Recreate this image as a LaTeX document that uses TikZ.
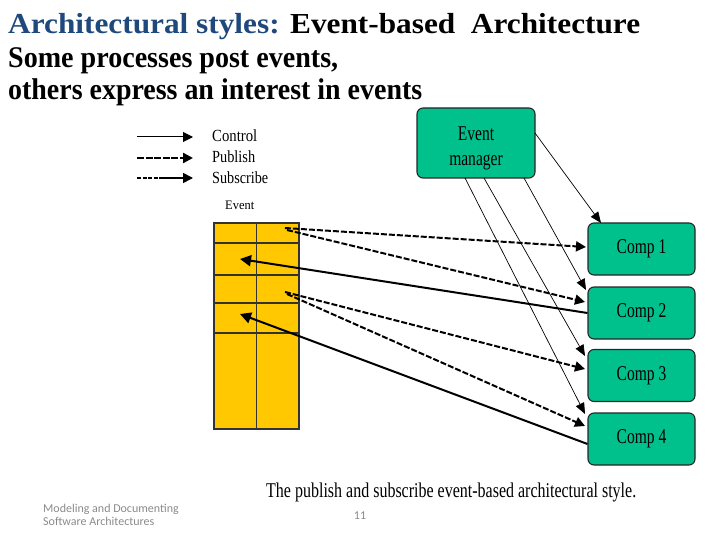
\documentclass[tikz,border=0pt]{standalone}
\usepackage{fontspec}
\setmainfont{Liberation Serif}
\newfontfamily\calib{Carlito}
\usetikzlibrary{arrows.meta}
\definecolor{titleblue}{HTML}{1F497D}
\definecolor{boxgreen}{HTML}{00C08C}
\definecolor{tabyellow}{HTML}{FFC800}
\definecolor{footgray}{HTML}{8A8A8A}
\newcommand{\cnd}[1]{\scalebox{0.74}[1]{#1}}
\begin{document}
\begin{tikzpicture}[x=1pt,y=-1pt,
  greenbox/.style={draw=black!85, line width=1.1pt, fill=boxgreen, rounded corners=6pt, inner sep=0pt, font=\fontsize{21}{25}\selectfont, align=center},
  compbox/.style={greenbox, minimum width=107pt, minimum height=52pt},
  tabbox/.style={draw=black!80, line width=1.1pt, fill=tabyellow, inner sep=0pt, minimum width=85pt, minimum height=206pt},
  ctrl/.style={line width=0.7pt, -{Triangle[length=11pt,width=9pt]}},
  pub/.style={line width=2pt, dash pattern=on 6pt off 2pt, -{Triangle[length=10pt,width=10pt]}},
  sub/.style={line width=2pt, -{Triangle[length=11pt,width=11pt]}},
  legctrl/.style={line width=1pt, -{Triangle[length=10pt,width=10pt]}},
  legpub/.style={line width=2.4pt, dash pattern=on 7pt off 1.5pt, -{Triangle[length=10pt,width=10pt]}},
  legsub/.style={line width=1.6pt, dash pattern=on 4pt off 1.5pt on 4pt off 1.5pt on 4pt off 1.5pt on 4pt off 1.5pt on 30pt off 0pt, -{Triangle[length=10pt,width=10pt]}},
  legtxt/.style={anchor=base west, inner sep=0pt, font=\fontsize{17}{17}\selectfont},
  foot/.style={inner sep=0pt, font=\calib\fontsize{12}{14}\selectfont, text=footgray}
]
\useasboundingbox (0,0) rectangle (720,540);

% Title and subtitle
\node[anchor=base west, inner sep=0pt, font=\fontsize{29}{29}\selectfont\bfseries] (title) at (8,34)
  {\resizebox{632pt}{\height}{\textcolor{titleblue}{Architectural styles:} Event-based\ \ Architecture}};
\node[anchor=base west, inner sep=0pt, font=\fontsize{30}{30}\selectfont\bfseries] (sub1) at (8,68)
  {\resizebox{330pt}{\height}{Some processes post events,}};
\node[anchor=base west, inner sep=0pt, font=\fontsize{30}{30}\selectfont\bfseries] (sub2) at (8,100)
  {\resizebox{414pt}{\height}{others express an interest in events}};

% Legend
\coordinate (l1a) at (137,137); \coordinate (l1b) at (193,137);
\coordinate (l2a) at (137,158); \coordinate (l2b) at (193,158);
\coordinate (l3a) at (137,178); \coordinate (l3b) at (193,178);
\draw[legctrl] (l1a) -- (l1b);
\draw[legpub] (l2a) -- (l2b);
\draw[legsub] (l3a) -- (l3b);
\node[legtxt] (lc) at (212,142) {\resizebox{45pt}{\height}{Control}};
\node[legtxt] (lp) at (212,163) {\resizebox{43pt}{\height}{Publish}};
\node[legtxt] (ls) at (212,184) {\resizebox{56pt}{\height}{Subscribe}};
\node[anchor=base west, inner sep=0pt, font=\fontsize{13}{13}\selectfont] (le) at (225,210) {\resizebox{29pt}{\height}{Event}};

% Event table
\node[tabbox] (evt) at (256.5,326) {};
\draw[black!80, line width=1.1pt] (evt.north) -- (evt.south);
\foreach \yy in {243,275,303,333}
  \draw[black!80, line width=1.1pt] (evt.west |- 0,\yy) -- (evt.east |- 0,\yy);

% Event manager and components
\node[greenbox, minimum width=118pt, minimum height=70pt,
      label={[font=\fontsize{21}{25}\selectfont, align=center, yshift=-5pt]center:{\cnd{Event}\\\cnd{manager}}}] (em) at (476,143) {};
\node[compbox] (c1) at (641.5,249) {\cnd{Comp 1}};
\node[compbox] (c2) at (641.5,313) {\cnd{Comp 2}};
\node[compbox] (c3) at (641.5,375.5) {\cnd{Comp 3}};
\node[compbox] (c4) at (641.5,439) {\cnd{Comp 4}};

% Control connectors
\coordinate (e1) at (535,133);
\coordinate (e2) at (524,178);
\coordinate (e3) at (484,178);
\coordinate (e4) at (465,178);
\coordinate (t1) at (601,223);
\coordinate (t2) at (586,290);
\coordinate (t3) at (585,356);
\coordinate (t4) at (585,414);
\draw[ctrl] (e1) -- (t1);
\draw[ctrl] (e2) -- (t2);
\draw[ctrl] (e3) -- (t3);
\draw[ctrl] (e4) -- (t4);

% Publish connectors
\coordinate (p1) at (285,228);
\coordinate (p1b) at (287,230);
\coordinate (p2) at (285,292);
\coordinate (p2b) at (287,294);
\coordinate (q1) at (586,247);
\coordinate (q2) at (585,302);
\coordinate (q3) at (585,369);
\coordinate (q4) at (585,426);
\draw[pub] (p1) -- (q1);
\draw[pub] (p1b) -- (q2);
\draw[pub] (p2) -- (q3);
\draw[pub] (p2b) -- (q4);

% Subscribe connectors
\coordinate (s1) at (240,259);
\coordinate (s2) at (240,314);
\draw[sub] (c2.west) -- (s1);
\draw[sub] (c4.west |- 0,444) -- (s2);

% Caption and footer
\node[anchor=base west, inner sep=0pt, font=\fontsize{21}{21}\selectfont] (cap) at (266,497)
  {\resizebox{370pt}{\height}{The publish and subscribe event-based architectural style.}};
\node[foot, anchor=base west] (f1) at (43,512) {Modeling and Documenting};
\node[foot, anchor=base west] (f2) at (43,525) {Software Architectures};
\node[foot, anchor=base] (pg) at (360,519) {11};
\end{tikzpicture}
\end{document}
